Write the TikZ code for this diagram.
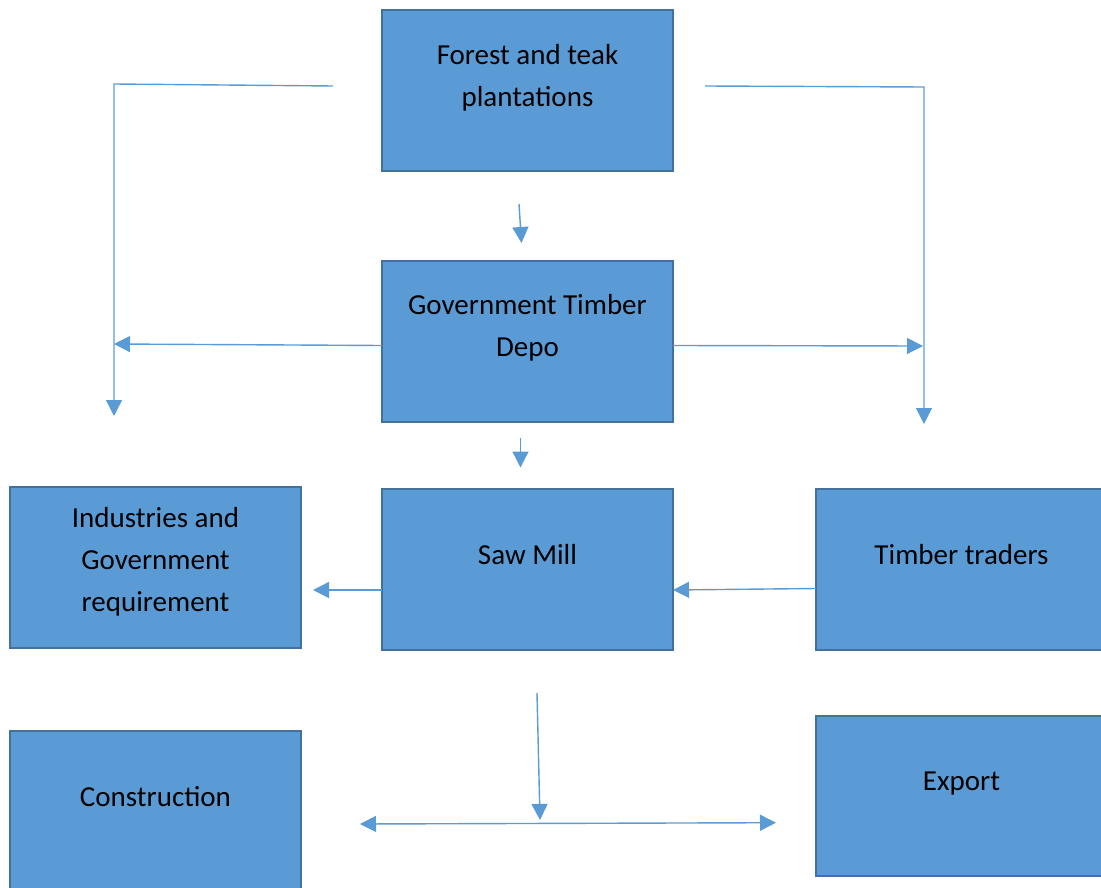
\documentclass[tikz,border=0pt]{standalone}
\usepackage{fontspec}
\setmainfont{Carlito}
\usetikzlibrary{arrows.meta,calc}
\definecolor{boxfill}{HTML}{5B9BD5}
\definecolor{boxline}{HTML}{41719C}
\definecolor{flowline}{HTML}{5B9BD5}
\begin{document}
\begin{tikzpicture}[x=1pt,y=-1pt,
  box/.style={draw=boxline, fill=boxfill, line width=2pt, rectangle,
    minimum width=291pt, minimum height=161pt, anchor=north west,
    inner sep=0pt, outer sep=0pt},
  boxtext/.style={anchor=north, inner sep=0pt, align=center,
    font=\fontsize{29}{42}\selectfont, text=black},
  flow/.style={draw=flowline, line width=1.4pt,
    -{Triangle[length=16pt,width=16pt]}},
  twoway/.style={draw=flowline, line width=1.4pt,
    {Triangle[length=16pt,width=16pt]}-{Triangle[length=16pt,width=16pt]}}]
\useasboundingbox (0,0) rectangle (1101,888);
\clip (0,0) rectangle (1101,888);

% boxes
\node[box] (forest)  at (382,10)  {};
\node[box] (depo)    at (382,261) {};
\node[box] (saw)     at (382,489) {};
\node[box] (ind)     at (10,487)  {};
\node[box] (traders) at (816,489) {};
\node[box] (constr)  at (10,731)  {};
\node[box, minimum height=160pt] (export) at (816,716) {};

% labels, top aligned inside the boxes
\node[boxtext] (forest-t)  at ([yshift=-24.6pt]forest.north)  {\strut Forest and teak\\plantations};
\node[boxtext] (depo-t)    at ([yshift=-23.6pt]depo.north)    {\strut Government Timber\\Depo};
\node[boxtext] (saw-t)     at ([yshift=-45.6pt]saw.north)     {\strut Saw Mill};
\node[boxtext] (ind-t)     at ([yshift=-10.6pt]ind.north)     {\strut Industries and\\Government\\requirement};
\node[boxtext] (traders-t) at ([yshift=-45.6pt]traders.north) {\strut Timber traders};
\node[boxtext] (constr-t)  at ([yshift=-45.6pt]constr.north)  {\strut Construction};
\node[boxtext] (export-t)  at ([yshift=-44.6pt]export.north)  {\strut Export};

% free ends of the connectors
\coordinate (lstart)  at (333,86);
\coordinate (lcorner) at (114,84);
\coordinate (lend)    at (114,416);
\coordinate (rstart)  at (705,86);
\coordinate (rcorner) at (924,87);
\coordinate (rend)    at (924,424);
\coordinate (lmid)    at (114,344);
\coordinate (rmid)    at (923,346);
\coordinate (fd1)     at (519,204);
\coordinate (fd2)     at (521.5,243);
\coordinate (ds1)     at (520.5,438);
\coordinate (ds2)     at (520.5,467.5);
\coordinate (si)      at (313,590);
\coordinate (sd1)     at (537,693);
\coordinate (sd2)     at (540,820);
\coordinate (dl)      at (360,824);
\coordinate (dr)      at (776,822.7);

% connectors
\draw[flow] (lstart) -- (lcorner) -- (lend);
\draw[flow] (rstart) -- (rcorner) -- (rend);
\draw[flow] ([yshift=-4pt]depo.west) -- (lmid);
\draw[flow] ([yshift=-4pt]depo.east) -- (rmid);
\draw[flow] (fd1) -- (fd2);
\draw[flow] (ds1) -- (ds2);
\draw[flow] ([yshift=-20.5pt]saw.west) -- (si);
\draw[flow] ([yshift=-19pt]traders.west) -- ([yshift=-20.5pt]saw.east);
\draw[flow] (sd1) -- (sd2);
\draw[twoway] (dl) -- (dr);
\end{tikzpicture}
\end{document}
